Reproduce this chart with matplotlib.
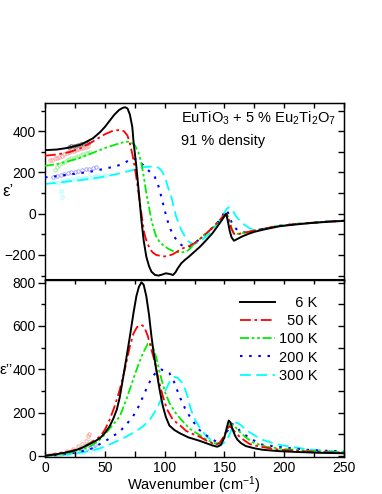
import matplotlib
matplotlib.use('Agg')
import matplotlib.pyplot as plt
from matplotlib.ticker import MultipleLocator, NullFormatter

plt.rcParams['font.family'] = ['Liberation Sans', 'DejaVu Sans']
plt.rcParams['mathtext.fontset'] = 'custom'
plt.rcParams['mathtext.rm'] = 'Liberation Sans'
plt.rcParams['mathtext.it'] = 'Liberation Sans:italic'
plt.rcParams['mathtext.bf'] = 'Liberation Sans:bold'

# ---------------- data: eps' (top panel) ----------------
labels = ['6 K', '50 K', '100 K', '200 K', '300 K']

wn1_6K = [0, 10, 20, 30, 40, 46, 50, 54, 58, 62, 65, 67, 69, 71, 73, 74, 76.4, 78.5, 80.6,
          82.5, 84.7, 87, 89, 92, 95, 98, 101, 104, 107, 109, 111, 114, 117, 120, 125, 130,
          135, 140, 144, 148, 151.5, 153, 154.5, 156, 158, 161, 165, 170, 175, 182, 190,
          196, 210, 223, 237, 250]
e1_6K = [308, 311, 320, 335, 365, 395, 420, 450, 480, 503, 513, 516, 510, 480, 420, 350, 228,
         100, -31, -130, -208, -255, -281, -297, -300, -295, -289, -292, -297, -285, -265,
         -240, -224, -210, -184, -158, -127, -95, -63, -30, 0, -40, -85, -115, -131, -122,
         -110, -98, -88, -78, -68, -61, -52, -45, -39, -35]

wn1_50K = [0, 10, 20, 30, 40, 50, 56, 62, 66, 69, 71, 73, 75, 77, 79, 81, 83, 85, 87.5, 90,
           93, 97, 100, 104, 107, 110, 112.5, 116, 120, 125, 130, 135, 140, 145, 150, 152,
           154, 156, 158, 161, 165, 170, 175, 182, 190, 196, 210, 223, 237, 250]
e1_50K = [281, 287, 298, 318, 350, 385, 400, 406, 400, 378, 340, 290, 228, 150, 66, -15, -95,
          -135, -168, -188, -200, -205, -207, -203, -196, -186, -176, -166, -158, -143, -120,
          -95, -68, -38, -6, -2, -35, -75, -98, -100, -94, -88, -82, -74, -65, -59, -50, -44,
          -38, -34]

wn1_100K = [0, 10, 20, 30, 40, 50, 60, 66, 69.4, 72, 75, 78, 80.6, 83, 84.7, 87, 89, 91, 93,
            96, 98.6, 103, 108, 114, 119.4, 122, 125, 130, 135, 140, 145, 150, 152, 154, 156,
            158, 161, 165, 170, 175, 182, 190, 196, 210, 223, 237, 250]
e1_100K = [232, 240, 255, 272, 295, 318, 337, 347, 349, 345, 333, 300, 244, 165, 99, 30, -31,
           -75, -111, -138, -152, -170, -184, -189, -179, -165, -143, -120, -95, -68, -38, -5,
           2, -30, -70, -95, -98, -94, -88, -82, -74, -65, -59, -50, -44, -38, -34]

wn1_200K = [0, 10, 20, 30, 37.5, 50, 60, 66, 70, 73.6, 77, 80.6, 83, 86, 89, 91.7, 94, 95.8,
            98, 100, 102, 104, 106, 108, 111, 114, 118, 121, 125, 130, 135, 140, 145, 148,
            151, 153, 155, 158, 161, 165, 170, 175, 182, 190, 196, 210, 223, 237, 250]
e1_200K = [176, 182, 190, 197, 203, 218, 231, 245, 258, 268, 260, 244, 230, 212, 196, 179, 150,
           115, 65, 18, -25, -63, -90, -111, -135, -152, -159, -160, -143, -120, -95, -68,
           -38, -15, 18, 5, -30, -63, -80, -92, -88, -82, -74, -65, -59, -50, -44, -38, -34]

wn1_300K = [0, 10, 20, 30, 46, 60, 73.6, 77.8, 82, 86, 90, 93, 95, 97, 99, 101, 103, 105.6,
            107.5, 109.7, 112, 114, 117, 119.4, 122, 125, 128, 133, 137, 141, 145, 149, 152,
            154, 156, 158, 160, 162.5, 166, 171, 176, 182, 190, 196, 210, 223, 237, 250]
e1_300K = [144, 150, 157, 163, 176, 192, 212, 218, 225, 228, 229, 228, 222, 212, 192, 163, 125,
           82, 35, -15, -50, -80, -110, -132, -143, -147, -138, -119, -100, -70, -40, -5, 25,
           31, 25, 5, -15, -31, -50, -71, -80, -74, -65, -59, -50, -44, -38, -34]

# ---------------- data: eps'' (bottom panel) ----------------
wn2_6K = [0, 10, 20, 25, 30, 37.5, 42, 46, 50, 54, 57, 60, 62.5, 65, 68, 71, 74, 76.4, 78.5,
          80.6, 82.5, 84.7, 87, 89, 91, 93, 96, 98.6, 101, 104, 108, 112.5, 120, 129, 135,
          140, 144, 147, 150, 152, 153.6, 155, 157, 159, 161, 164, 168, 175, 182, 195, 210,
          230, 250]
e2_6K = [0, 8, 18, 25, 35, 55, 68, 82, 105, 136, 170, 213, 270, 351, 450, 552, 660, 737, 780,
         801, 790, 737, 650, 552, 470, 398, 300, 228, 180, 140, 120, 105, 85, 70, 58, 48, 42,
         50, 85, 130, 163, 155, 120, 92, 74, 58, 45, 35, 28, 22, 18, 14, 12]

wn2_50K = [0, 10, 20, 30, 37.5, 46, 50, 54, 58, 62.5, 67, 71, 74, 77, 80.6, 83, 86, 89, 92, 95,
           98.6, 102, 107, 112.5, 118, 124, 129, 135, 143, 146, 149, 152, 154, 156, 158, 161,
           165, 171, 180, 196, 220, 250]
e2_50K = [0, 10, 20, 35, 58, 89, 120, 166, 225, 305, 405, 505, 565, 595, 605, 595, 552, 490,
          429, 350, 274, 215, 166, 143, 115, 100, 89, 70, 51, 60, 85, 118, 136, 130, 115, 97,
          78, 55, 42, 28, 20, 14]

wn2_100K = [0, 10, 20, 30, 37.5, 45, 51, 57, 62.5, 68, 73.6, 78, 82, 86, 88, 90, 93, 96, 100,
            104, 109, 114, 121, 129, 136, 143, 147, 150, 153, 155, 158, 162.5, 168, 173.6, 185,
            200, 225, 250]
e2_100K = [0, 5, 14, 28, 43, 70, 105, 145, 182, 260, 351, 420, 475, 518, 520, 505, 455, 382,
           300, 244, 200, 166, 125, 97, 72, 55, 62, 90, 130, 148, 140, 112, 85, 62, 42, 31, 22,
           16]

wn2_200K = [0, 10, 20, 30, 40, 46, 54, 62.5, 68, 73.6, 78, 82, 86, 90, 94, 97, 100, 104, 108,
            112.5, 117, 121, 125, 129, 136, 143, 148, 152, 156, 159, 163, 167, 175, 182, 200,
            223, 250]
e2_200K = [0, 4, 10, 20, 35, 55, 80, 112, 145, 182, 225, 274, 325, 367, 392, 398, 395, 382,
           340, 274, 220, 182, 150, 120, 90, 66, 72, 110, 148, 140, 115, 97, 70, 51, 38, 26, 20]

wn2_300K = [0, 10, 20, 30, 40, 46, 55, 62, 68, 75, 82, 88, 93, 97, 101, 104, 108, 111, 115,
            117, 119.4, 122, 126, 130.6, 136, 142, 147, 151, 154, 157, 160, 163, 168, 175, 182,
            190, 196, 210, 223, 237, 250]
e2_300K = [0, 3, 8, 15, 25, 35, 55, 72, 89, 110, 136, 170, 213, 260, 305, 340, 364, 360, 335,
           310, 270, 213, 160, 120, 85, 62, 51, 65, 95, 135, 154, 145, 120, 95, 74, 60, 51, 38,
           28, 23, 19]

# ---------------- low-frequency measured points (symbols) ----------------
sym1_6K_x = [20, 22, 24, 26, 28, 30, 32, 34, 36]
sym1_6K_y = [322, 326, 328, 330, 333, 336, 338, 341, 344]
sym1_50K_x = [4, 6, 8, 10, 12, 14, 16, 18, 20, 22, 24, 26, 28, 30, 32, 34, 36]
sym1_50K_y = [258, 262, 268, 272, 276, 282, 287, 292, 297, 302, 306, 310, 314, 318, 320, 323, 326]
sym1_100K_x = [8, 10, 12, 14, 16, 18, 20, 22, 24, 26, 28, 30, 32, 34, 36, 38]
sym1_100K_y = [212, 226, 236, 244, 252, 258, 264, 268, 272, 276, 280, 285, 290, 293, 296, 300]
sym1_200K_x = [7, 10, 13, 16, 19, 22, 25, 28, 31, 34, 37, 40, 43]
sym1_200K_y = [179, 184, 188, 192, 196, 200, 204, 208, 212, 216, 219, 222, 225]
sym1_300K_x = [8, 11, 13, 14, 16, 19, 22, 25, 28, 31, 34, 37, 40, 43, 46, 49, 51]
sym1_300K_y = [155, 150, 110, 80, 160, 163, 166, 168, 171, 173, 175, 177, 179, 181, 183, 185, 187]

sym2_50K_x = [3, 8, 13, 18, 23, 28, 31, 34, 36, 37]
sym2_50K_y = [2, 8, 15, 22, 32, 45, 55, 70, 90, 100]
sym2_100K_x = [3, 8, 13, 18, 23, 28, 32, 35, 38]
sym2_100K_y = [1, 5, 10, 16, 24, 35, 45, 55, 70]
sym2_200K_x = [3, 10, 18, 25, 30, 35, 40, 42]
sym2_200K_y = [1, 5, 12, 20, 28, 36, 45, 52]
sym2_300K_x = [3, 10, 18, 25, 32, 38, 43, 46]
sym2_300K_y = [1, 3, 7, 12, 17, 22, 27, 30]

# ---------------- styles ----------------
colors = ['black', '#ff0000', '#00ee00', '#0000ff', '#00ffff']
sym_colors = ['#555555', '#ff9a9a', '#9aee9a', '#9a9aff', '#9affff']
styles = ['-', (0, (6, 2, 1.5, 2)), (0, (5, 1.5, 1.5, 1.5, 1.5, 1.5)), (0, (1.2, 3.2)), (0, (6, 3))]
widths = [1.4, 1.3, 1.3, 1.5, 1.3]

W, H = 382, 494
fig = plt.figure(figsize=(W / 100, H / 100), dpi=100)
ax1 = fig.add_axes([45 / W, 1 - 279.5 / H, 299 / W, (279.5 - 102.7) / H])
ax2 = fig.add_axes([45 / W, 1 - 456.5 / H, 299 / W, (456.5 - 279.5) / H])

top_x = [wn1_6K, wn1_50K, wn1_100K, wn1_200K, wn1_300K]
top_y = [e1_6K, e1_50K, e1_100K, e1_200K, e1_300K]
bot_x = [wn2_6K, wn2_50K, wn2_100K, wn2_200K, wn2_300K]
bot_y = [e2_6K, e2_50K, e2_100K, e2_200K, e2_300K]
s1x = [sym1_6K_x, sym1_50K_x, sym1_100K_x, sym1_200K_x, sym1_300K_x]
s1y = [sym1_6K_y, sym1_50K_y, sym1_100K_y, sym1_200K_y, sym1_300K_y]
s2x = [[], sym2_50K_x, sym2_100K_x, sym2_200K_x, sym2_300K_x]
s2y = [[], sym2_50K_y, sym2_100K_y, sym2_200K_y, sym2_300K_y]

for i in range(5):
    ax1.plot(s1x[i], s1y[i], 'o', ms=2.5, mfc='none', mec=sym_colors[i], mew=0.6, zorder=1)
    if s2x[i]:
        ax2.plot(s2x[i], s2y[i], 'o', ms=2.5, mfc='none', mec=sym_colors[i], mew=0.6, zorder=1)
handles = []
for i in [4, 3, 2, 1, 0]:
    ax1.plot(top_x[i], top_y[i], color=colors[i], ls=styles[i], lw=widths[i], zorder=2 + (4 - i))
    h, = ax2.plot(bot_x[i], bot_y[i], color=colors[i], ls=styles[i], lw=widths[i], zorder=2 + (4 - i))
    handles.append(h)
handles = handles[::-1]

for ax in (ax1, ax2):
    ax.set_xlim(0, 250)
    for s in ax.spines.values():
        s.set_linewidth(1.0)
    ax.tick_params(axis='y', which='major', direction='out', length=5, width=1.0,
                   labelsize=10, pad=1.5, right=False)
    ax.tick_params(axis='y', which='minor', direction='out', length=3, width=1.0, right=False)
    sx = ax.secondary_xaxis('top')
    sx.xaxis.set_major_locator(MultipleLocator(25))
    sx.xaxis.set_major_formatter(NullFormatter())
    sx.tick_params(direction='in', length=3.5, width=1.0)
    sy = ax.secondary_yaxis('right')
    sy.yaxis.set_major_locator(MultipleLocator(100))
    sy.yaxis.set_major_formatter(NullFormatter())
    sy.tick_params(direction='in', length=4, width=1.0)

ax1.set_ylim(-319, 538)
ax1.yaxis.set_major_locator(MultipleLocator(200))
ax1.yaxis.set_minor_locator(MultipleLocator(100))
ax1.tick_params(axis='x', which='both', bottom=False, labelbottom=False)

ax2.set_ylim(-3, 814)
ax2.yaxis.set_major_locator(MultipleLocator(200))
ax2.yaxis.set_minor_locator(MultipleLocator(100))
ax2.xaxis.set_major_locator(MultipleLocator(50))
ax2.xaxis.set_minor_locator(MultipleLocator(25))
ax2.tick_params(axis='x', which='both', direction='in', length=4, width=1.0, labelsize=10, pad=3)

fig.text(2 / W, 1 - 192 / H, 'ε’', fontsize=12, va='center', ha='left')
fig.text(0 / W, 1 - 370 / H, 'ε’’', fontsize=11, va='center', ha='left')
fig.text(194 / W, 1 - 489.5 / H, 'Wavenumber (cm$^{-1}$)', fontsize=10.5, va='baseline', ha='center')

fig.text(181 / W, 1 - 123 / H, 'EuTiO$_3$ + 5 % Eu$_2$Ti$_2$O$_7$', fontsize=10.5, va='baseline', ha='left')
fig.text(181 / W, 1 - 145 / H, '91 % density', fontsize=10.5, va='baseline', ha='left')

leg_labels = ['\u2007\u20076 K', '\u200750 K', '100 K', '200 K', '300 K']
leg = ax2.legend(handles, leg_labels, loc='upper left', bbox_to_anchor=((240 - 45) / 299, 0.905),
                 frameon=False, fontsize=10.5, borderpad=0, borderaxespad=0,
                 handlelength=2.4, handletextpad=0.3, labelspacing=0.28)

fig.savefig('out.png', dpi=100)
